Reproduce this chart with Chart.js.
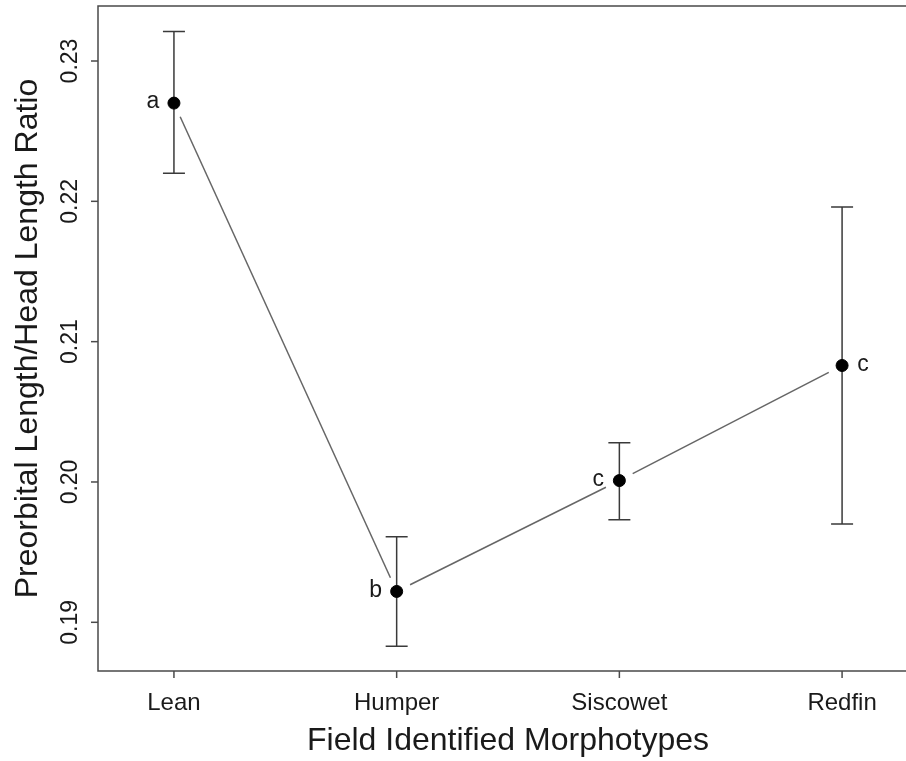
<!DOCTYPE html>
<html>
<head>
<meta charset="utf-8">
<script src="https://cdn.jsdelivr.net/npm/chart.js@4/dist/chart.umd.min.js"></script>
<style>
  html, body { margin: 0; padding: 0; background: #fff; }
  #wrap { width: 906px; height: 761px; }
</style>
</head>
<body>
<div id="wrap"><canvas id="morphChart" width="906" height="761"></canvas></div>
<script>
// Preorbital/head length ratio by field-identified morphotype (mean +/- error)
const categories = ["Lean", "Humper", "Siscowet", "Redfin"];
const xPos = [1, 2, 3, 4];
const means = [0.2270, 0.1922, 0.2001, 0.2083];
const upper = [0.2321, 0.1961, 0.2028, 0.2196];
const lower = [0.2220, 0.1883, 0.1973, 0.1970];
const groupLetters = ["a", "b", "c", "c"];
const letterSide = [-1, -1, -1, 1];
const yTicks = [0.19, 0.20, 0.21, 0.22, 0.23];

const FONT = "'Liberation Sans', Arial, Helvetica, sans-serif";
const AXIS_COLOR = "#4a4a4a";

// R-style axes, error bars, the gapped connecting line and group letters
const baseGraphics = {
  id: "baseGraphics",
  beforeDatasetsDraw(chart) {
    const { ctx, chartArea: a, scales: { x, y } } = chart;
    ctx.save();

    // box: left, top and bottom edges (right edge runs off the canvas)
    ctx.strokeStyle = AXIS_COLOR;
    ctx.lineWidth = 1.5;
    ctx.beginPath();
    ctx.moveTo(a.right + 2, a.top);
    ctx.lineTo(a.left, a.top);
    ctx.lineTo(a.left, a.bottom);
    ctx.lineTo(a.right + 2, a.bottom);
    ctx.stroke();

    // y ticks with rotated labels
    ctx.fillStyle = "#1a1a1a";
    ctx.font = "23px " + FONT;
    ctx.textAlign = "center";
    ctx.textBaseline = "middle";
    yTicks.forEach(v => {
      const py = y.getPixelForValue(v);
      ctx.beginPath();
      ctx.moveTo(a.left, py);
      ctx.lineTo(a.left - 7, py);
      ctx.stroke();
      ctx.save();
      ctx.translate(70, py);
      ctx.rotate(-Math.PI / 2);
      ctx.fillText(v.toFixed(2), 0, 1);
      ctx.restore();
    });

    // x ticks with category labels
    ctx.font = "24px " + FONT;
    xPos.forEach((v, i) => {
      const px = x.getPixelForValue(v);
      ctx.beginPath();
      ctx.moveTo(px, a.bottom);
      ctx.lineTo(px, a.bottom + 7);
      ctx.stroke();
      ctx.fillText(categories[i], px, 703);
    });

    // axis titles
    ctx.font = "32px " + FONT;
    ctx.fillText("Field Identified Morphotypes", 508, 741);
    ctx.save();
    ctx.translate(28, (a.top + a.bottom) / 2);
    ctx.rotate(-Math.PI / 2);
    ctx.fillText("Preorbital Length/Head Length Ratio", 0, 0);
    ctx.restore();

    // error bars
    ctx.strokeStyle = "#3a3a3a";
    ctx.lineWidth = 1.5;
    xPos.forEach((v, i) => {
      const px = x.getPixelForValue(v);
      const pu = y.getPixelForValue(upper[i]);
      const pl = y.getPixelForValue(lower[i]);
      ctx.beginPath();
      ctx.moveTo(px, pu);
      ctx.lineTo(px, pl);
      ctx.moveTo(px - 11, pu);
      ctx.lineTo(px + 11, pu);
      ctx.moveTo(px - 11, pl);
      ctx.lineTo(px + 11, pl);
      ctx.stroke();
    });

    // connecting line, broken around each point
    const gap = 15;
    ctx.strokeStyle = "#666";
    ctx.lineWidth = 1.5;
    for (let i = 0; i < xPos.length - 1; i++) {
      const x0 = x.getPixelForValue(xPos[i]), y0 = y.getPixelForValue(means[i]);
      const x1 = x.getPixelForValue(xPos[i + 1]), y1 = y.getPixelForValue(means[i + 1]);
      const len = Math.hypot(x1 - x0, y1 - y0);
      const ux = (x1 - x0) / len, uy = (y1 - y0) / len;
      ctx.beginPath();
      ctx.moveTo(x0 + ux * gap, y0 + uy * gap);
      ctx.lineTo(x1 - ux * gap, y1 - uy * gap);
      ctx.stroke();
    }
    ctx.restore();
  },
  afterDatasetsDraw(chart) {
    const { ctx, scales: { x, y } } = chart;
    ctx.save();
    ctx.fillStyle = "#1a1a1a";
    ctx.font = "23px " + FONT;
    ctx.textAlign = "center";
    ctx.textBaseline = "middle";
    xPos.forEach((v, i) => {
      const px = x.getPixelForValue(v) + letterSide[i] * 21;
      ctx.fillText(groupLetters[i], px, y.getPixelForValue(means[i]) - 1);
    });
    ctx.restore();
  }
};

new Chart(document.getElementById("morphChart"), {
  type: "scatter",
  data: {
    datasets: [{
      data: xPos.map((v, i) => ({ x: v, y: means[i] })),
      backgroundColor: "#000",
      borderColor: "#000",
      pointRadius: 6,
      pointHoverRadius: 6,
      showLine: false
    }]
  },
  options: {
    responsive: false,
    animation: false,
    events: [],
    layout: { autoPadding: false, padding: { left: 98, top: 6, right: 0, bottom: 90 } },
    plugins: { legend: { display: false }, tooltip: { enabled: false } },
    scales: {
      x: { type: "linear", display: false, min: 0.659, max: 4.287 },
      y: { type: "linear", display: false, min: 0.18653, max: 0.23392 }
    }
  },
  plugins: [baseGraphics]
});
</script>
</body>
</html>
